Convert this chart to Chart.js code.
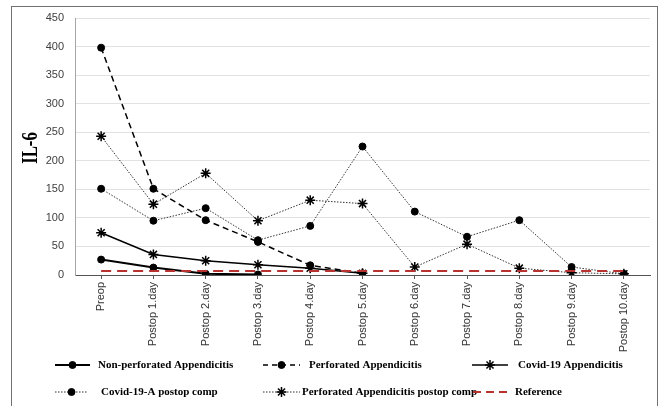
<!DOCTYPE html>
<html>
<head>
<meta charset="utf-8">
<title>IL-6</title>
<script src="https://cdn.jsdelivr.net/npm/chart.js@4.4.0/dist/chart.umd.min.js"></script>
<style>
    html, body { margin: 0; padding: 0; background: #fff; overflow: hidden; }
    #wrap { position: relative; width: 661px; height: 406px; }
    #il6Chart { position: absolute; left: 0; top: 0; }
    #frame { position: absolute; left: 11px; top: 6px; width: 645px; height: 420px; border: 1.5px solid #707070; pointer-events: none; }
</style>
</head>
<body>
<div id="wrap">
    <canvas id="il6Chart" width="661" height="406"></canvas>
    <div id="frame"></div>
</div>
<script>
// categories
const days = ['Preop', 'Postop 1.day', 'Postop 2.day', 'Postop 3.day', 'Postop 4.day', 'Postop 5.day',
    'Postop 6.day', 'Postop 7.day', 'Postop 8.day', 'Postop 9.day', 'Postop 10.day'];

// series values (IL-6)
const nonPerforated = [27, 13, 2, 1, null, null, null, null, null, null, null];
const perforated = [398, 151, 96, 58, 17, 3, null, null, null, null, null];
const covidAppendicitis = [74, 36, 25, 18, 12, 3, null, null, null, null, null];
const covidPostopComp = [151, 95, 117, 61, 86, 225, 111, 67, 96, 14, 2];
const perforatedPostopComp = [243, 124, 178, 95, 131, 125, 14, 54, 12, 4, 2];
const referenceLevel = [7, 7, 7, 7, 7, 7, 7, 7, 7, 7, 7];

const yTicks = [0, 50, 100, 150, 200, 250, 300, 350, 400, 450];

const dotted = [1.5, 1.5];

// legend placement (two rows, three columns)
const legendSlots = [
    { ds: 0, x1: 55, x2: 90, tx: 98, y: 365 },
    { ds: 1, x1: 263, x2: 300, tx: 309, y: 365 },
    { ds: 2, x1: 472, x2: 508, tx: 518, y: 365 },
    { ds: 3, x1: 55, x2: 88, tx: 101, y: 392 },
    { ds: 4, x1: 263, x2: 300, tx: 302, y: 392 },
    { ds: 5, x1: 473, x2: 508, tx: 515, y: 392 }
];

// y title + legend drawn on the canvas
const extrasPlugin = {
    id: 'extras',
    afterDraw(chart) {
        const ctx = chart.ctx;
        // IL-6 title
        ctx.save();
        ctx.translate(30, 148);
        ctx.rotate(-Math.PI / 2);
        ctx.scale(0.7, 1);
        ctx.font = 'bold 24px "Liberation Serif"';
        ctx.fillStyle = '#000';
        ctx.textAlign = 'center';
        ctx.textBaseline = 'middle';
        ctx.fillText('IL-6', 0, 1);
        ctx.restore();

        // legend
        legendSlots.forEach(function(slot) {
            const ds = chart.data.datasets[slot.ds];
            ctx.save();
            ctx.strokeStyle = ds.borderColor;
            ctx.lineWidth = ds.borderWidth;
            ctx.setLineDash(ds.legendDash || ds.borderDash || []);
            ctx.beginPath();
            ctx.moveTo(slot.x1, slot.y);
            ctx.lineTo(slot.x2, slot.y);
            ctx.stroke();
            ctx.setLineDash([]);
            if (ds.pointRadius > 0) {
                ctx.fillStyle = '#000';
                ctx.strokeStyle = '#000';
                ctx.lineWidth = ds.pointBorderWidth || 1;
                Chart.helpers.drawPoint(ctx, {
                    pointStyle: ds.pointStyle,
                    radius: ds.pointRadius,
                    borderWidth: ds.pointBorderWidth || 1,
                    rotation: 0
                }, (slot.x1 + slot.x2) / 2, slot.y);
            }
            ctx.font = 'bold 11px "Liberation Serif"';
            ctx.fillStyle = '#000';
            ctx.textAlign = 'left';
            ctx.textBaseline = 'middle';
            ctx.fillText(ds.label, slot.tx, slot.y);
            ctx.restore();
        });
    }
};

const ctxIL6 = document.getElementById('il6Chart').getContext('2d');
const il6Chart = new Chart(ctxIL6, {
    type: 'line',
    data: {
        labels: days,
        datasets: [{
            label: 'Non-perforated Appendicitis',
            data: nonPerforated,
            borderColor: '#000',
            borderWidth: 2,
            pointStyle: 'circle',
            pointRadius: 3.5,
            pointBackgroundColor: '#000',
            pointBorderColor: '#000',
            pointBorderWidth: 1
        }, {
            label: 'Perforated Appendicitis',
            data: perforated,
            borderColor: '#000',
            borderWidth: 1.5,
            borderDash: [6, 4],
            legendDash: [5, 4],
            pointStyle: 'circle',
            pointRadius: 3.5,
            pointBackgroundColor: '#000',
            pointBorderColor: '#000',
            pointBorderWidth: 1
        }, {
            label: 'Covid-19 Appendicitis',
            data: covidAppendicitis,
            borderColor: '#000',
            borderWidth: 1.5,
            pointStyle: 'star',
            pointRadius: 5,
            pointBackgroundColor: '#000',
            pointBorderColor: '#000',
            pointBorderWidth: 1.5
        }, {
            label: 'Covid-19-A postop comp',
            data: covidPostopComp,
            borderColor: '#333',
            borderWidth: 1,
            borderDash: dotted,
            pointStyle: 'circle',
            pointRadius: 3.5,
            pointBackgroundColor: '#000',
            pointBorderColor: '#000',
            pointBorderWidth: 1
        }, {
            label: 'Perforated Appendicitis postop comp',
            data: perforatedPostopComp,
            borderColor: '#333',
            borderWidth: 1,
            borderDash: dotted,
            pointStyle: 'star',
            pointRadius: 5,
            pointBackgroundColor: '#000',
            pointBorderColor: '#000',
            pointBorderWidth: 1.5
        }, {
            label: 'Reference',
            data: referenceLevel,
            borderColor: '#b8332f',
            borderWidth: 2,
            borderDash: [10, 6],
            legendDash: [8, 5],
            pointRadius: 0,
            order: -1
        }]
    },
    options: {
        responsive: false,
        animation: false,
        spanGaps: false,
        layout: { padding: { top: 18, right: 11, left: 0, bottom: 0 } },
        plugins: {
            legend: { display: false },
            tooltip: { enabled: false }
        },
        scales: {
            x: {
                offset: true,
                afterFit: function(scale) { scale.height = 131; },
                border: { display: true, color: '#555', width: 1 },
                grid: {
                    display: true,
                    drawOnChartArea: false,
                    drawTicks: true,
                    tickLength: 4,
                    color: '#555',
                    offset: false
                },
                ticks: {
                    autoSkip: false,
                    minRotation: 90,
                    maxRotation: 90,
                    padding: 3,
                    color: '#333',
                    font: { family: '"Liberation Sans"', size: 11 }
                }
            },
            y: {
                min: 0,
                max: 450,
                afterFit: function(scale) { scale.width = 75; },
                afterBuildTicks: function(scale) {
                    scale.ticks = yTicks.map(function(v) { return { value: v }; });
                },
                border: { display: true, color: '#a6a6a6', width: 1 },
                grid: {
                    drawTicks: false,
                    color: function(c) { return c.tick && c.tick.value === 0 ? 'rgba(0,0,0,0)' : '#e2e2e2'; },
                    lineWidth: 1
                },
                ticks: {
                    padding: 11,
                    color: '#404040',
                    font: { family: '"Liberation Sans"', size: 11 }
                }
            }
        }
    },
    plugins: [extrasPlugin]
});
</script>
</body>
</html>
